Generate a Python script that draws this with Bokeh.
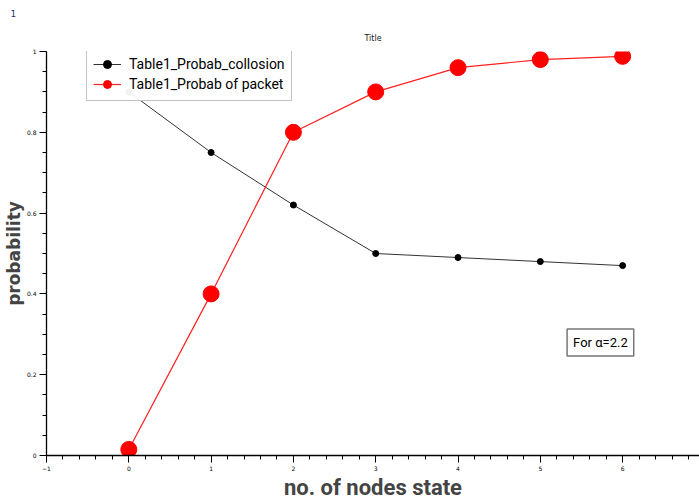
from bokeh.plotting import figure
from bokeh.models import Range1d, Legend, LegendItem, Label, Title, FixedTicker
from bokeh.embed import file_html
from bokeh.resources import INLINE

nodes = [0, 1, 2, 3, 4, 5, 6]
collision = [0.90, 0.75, 0.62, 0.50, 0.49, 0.48, 0.47]
packet = [0.015, 0.40, 0.80, 0.90, 0.96, 0.98, 0.988]
x_ticks = [-1, 0, 1, 2, 3, 4, 5, 6]
y_ticks = [0, 0.2, 0.4, 0.6, 0.8, 1]

p = figure(width=699, height=502, output_backend="svg", toolbar_location=None,
           x_range=Range1d(-1, 6.934), y_range=Range1d(0, 1.0),
           min_border_left=45, min_border_right=0, min_border_top=51, min_border_bottom=47)
p.background_fill_color = "white"
p.border_fill_color = "white"
p.outline_line_color = None
p.grid.visible = False

p.add_layout(Title(text="Title", align="center", text_font_size="8px",
                   text_font="DejaVu Sans", text_font_style="normal",
                   text_color="#222222", standoff=18), "above")
p.add_layout(Title(text="1", align="left", offset=-36, text_font_size="9px",
                   text_font="DejaVu Sans", text_font_style="normal",
                   text_color="#333366", standoff=12), "above")

l1 = p.line(nodes, collision, line_color="#333333", line_width=1)
m1 = p.scatter(nodes, collision, size=6, fill_color="black", line_color="black")
l2 = p.line(nodes, packet, line_color="#ff2020", line_width=1.2)
m2 = p.scatter(nodes, packet, size=16, fill_color="red", line_color="red")

legend = Legend(items=[LegendItem(label="Table1_Probab_collosion", renderers=[l1, m1]),
                       LegendItem(label="Table1_Probab of packet", renderers=[l2, m2])],
                location=(40, 354))
legend.label_text_font = "Roboto"
legend.label_text_font_size = "14px"
legend.label_text_color = "black"
legend.border_line_color = "#888888"
legend.border_line_width = 1.5
legend.padding = 6
legend.spacing = 0
legend.label_height = 20
legend.glyph_height = 20
legend.glyph_width = 28
legend.label_standoff = 8
legend.margin = 0
p.add_layout(legend, "center")

note = Label(x=5.73, y=0.28, text="For α=2.2", text_align="center", text_baseline="middle",
             text_font="Roboto", text_font_size="13px", text_color="black",
             border_line_color="#777777", border_line_width=1.5, background_fill_color="white",
             padding=6)
p.add_layout(note)

for ax in (p.xaxis[0], p.yaxis[0]):
    ax.major_label_text_font_size = "6px"
    ax.major_label_text_font = "DejaVu Sans"
    ax.major_label_text_color = "black"
    ax.axis_line_color = "black"
    ax.axis_line_width = 1.3
    ax.major_tick_line_color = "black"
    ax.minor_tick_line_color = "black"
    ax.major_tick_in = 0
    ax.minor_tick_in = 0
    ax.major_label_standoff = 3

p.xaxis[0].ticker = FixedTicker(ticks=x_ticks, minor_ticks=[-1 + i * 0.2 for i in range(40)])
p.yaxis[0].ticker = FixedTicker(ticks=y_ticks, minor_ticks=[i * 0.05 for i in range(21)])
p.xaxis[0].major_tick_out = 7
p.xaxis[0].minor_tick_out = 4
p.yaxis[0].major_tick_out = 7
p.yaxis[0].minor_tick_out = 4
p.yaxis[0].bounds = (0, 1)

p.xaxis.axis_label = "no. of nodes state"
p.xaxis.axis_label_text_font = "Roboto"
p.xaxis.axis_label_text_font_size = "22px"
p.xaxis.axis_label_text_font_style = "bold"
p.xaxis.axis_label_standoff = 1
p.yaxis.axis_label = "probability"
p.yaxis.axis_label_text_font = "DejaVu Sans"
p.yaxis.axis_label_text_font_size = "17px"
p.yaxis.axis_label_text_font_style = "bold"
p.yaxis.axis_label_standoff = 0

open("out.html", "w").write(file_html(p, INLINE))
